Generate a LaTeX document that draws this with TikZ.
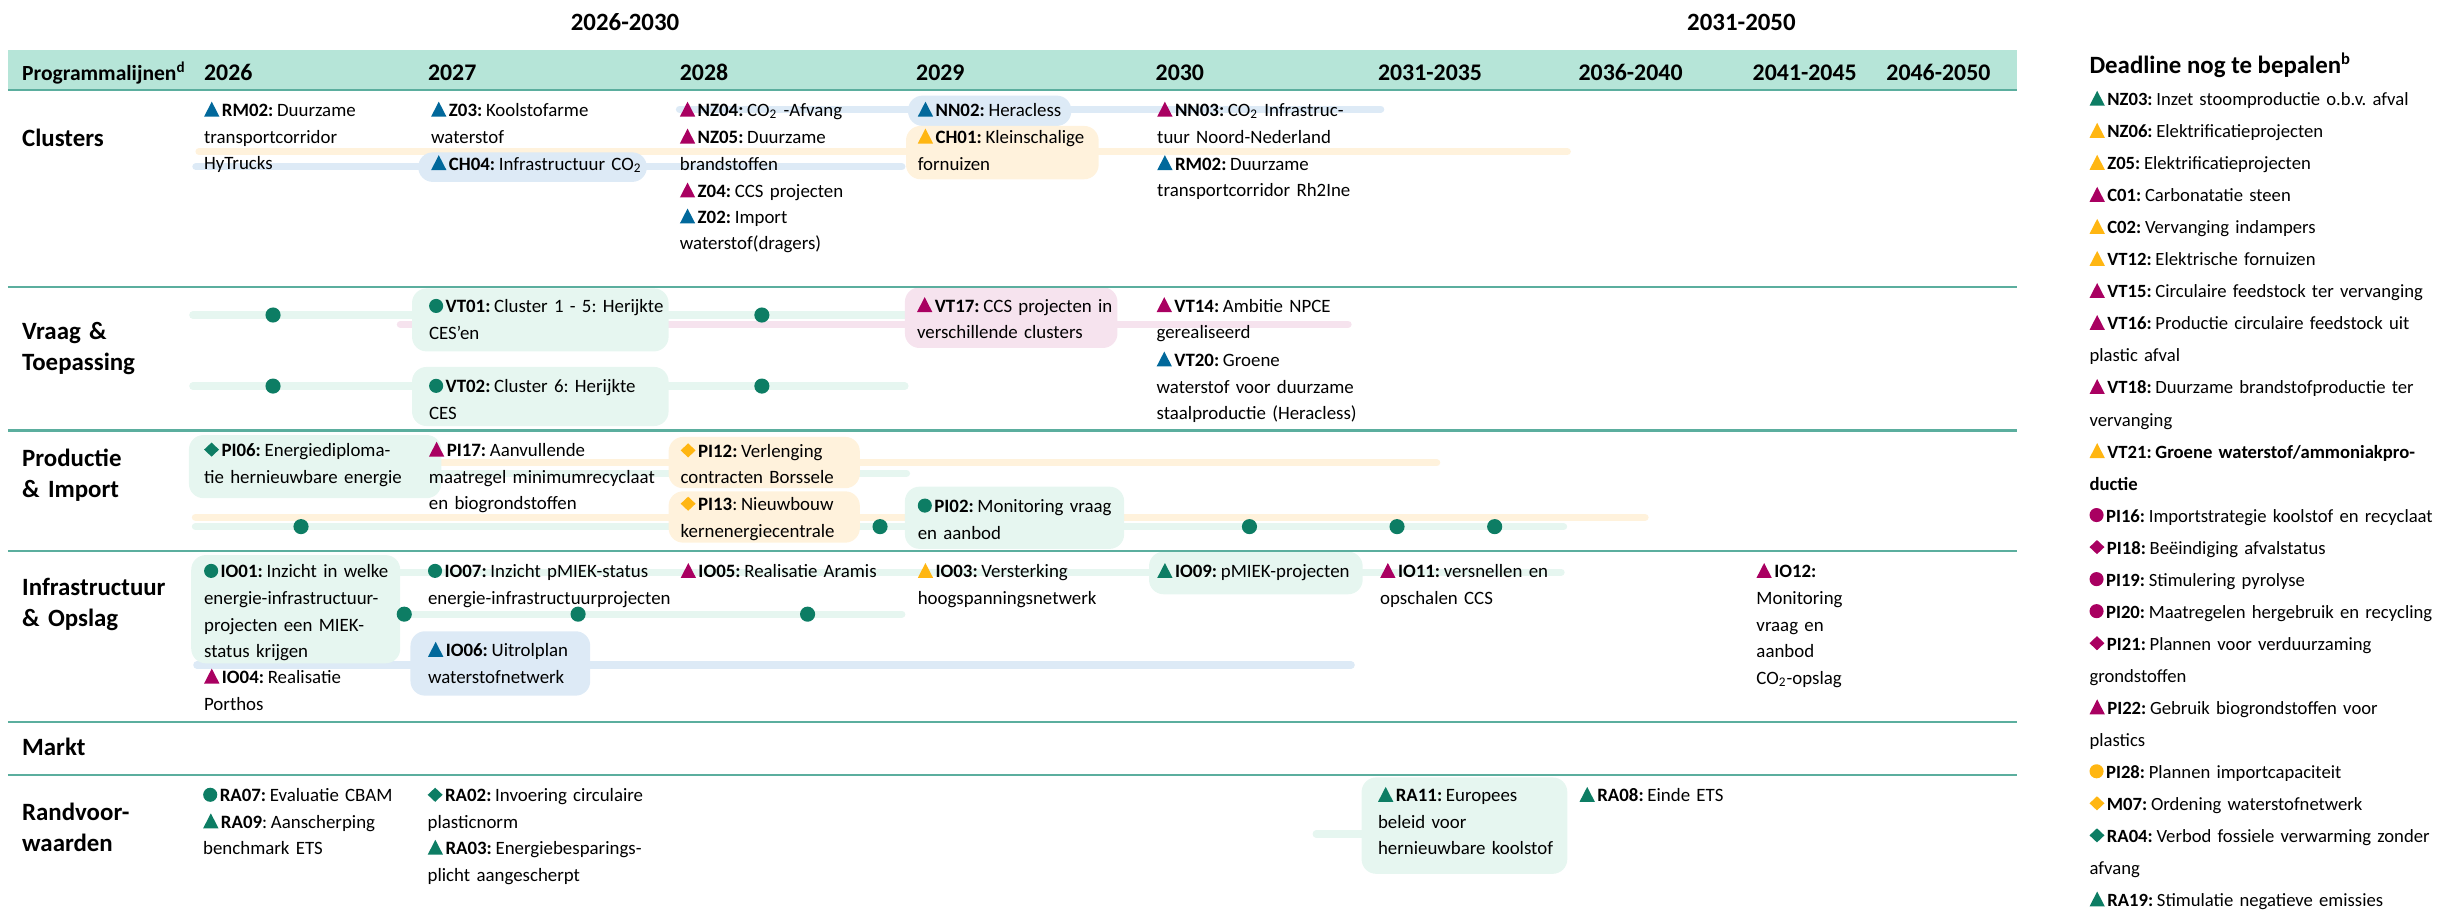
\documentclass[tikz,border=0pt]{standalone}
\usepackage{fontspec}
\setmainfont{Carlito}
\frenchspacing
\definecolor{hdr}{HTML}{B6E5D8}
\definecolor{sepc}{HTML}{5BAE9E}
\definecolor{vio}{HTML}{A90061}
\definecolor{blu}{HTML}{01689B}
\definecolor{yel}{HTML}{FFB612}
\definecolor{grn}{HTML}{0D7D64}
\definecolor{lgrn}{HTML}{E6F6F0}
\definecolor{lblu}{HTML}{DDEAF6}
\definecolor{lyel}{HTML}{FFF2DC}
\definecolor{lvio}{HTML}{F6E3EE}
% markers in front of the codes
\newcommand{\mtri}[1]{\tikz[baseline=0pt]\fill[#1] (0pt,0pt) -- (7.4pt,0pt) -- (3.7pt,7.2pt) -- cycle;\hspace{1.2pt}}
\newcommand{\mdot}[1]{\tikz[baseline=0pt]\fill[#1] (3.4pt,3.4pt) circle[radius=3.4pt];\hspace{1.2pt}}
\newcommand{\mdia}[1]{\tikz[baseline=0pt]\fill[#1] (3.6pt,0pt) -- (7.2pt,3.4pt) -- (3.6pt,6.8pt) -- (0pt,3.4pt) -- cycle;\hspace{1.2pt}}
% bold code with its colon
\newcommand{\cd}[1]{\textbf{#1:}\hspace{1.8pt}}
\tikzset{
  item/.style={anchor=base west, inner sep=0pt, text width=190pt, align=left, font=\fontsize{9.1}{12.8}\selectfont},
  legend/.style={anchor=base west, inner sep=0pt, text width=240pt, align=left, font=\fontsize{9}{15.45}\selectfont},
  rowlab/.style={anchor=base west, inner sep=0pt, text width=90pt, align=left, font=\fontsize{12}{15}\selectfont\bfseries},
  yearlab/.style={anchor=base west, inner sep=0pt, font=\fontsize{11.5}{13}\selectfont\bfseries},
  title/.style={anchor=base, inner sep=0pt, font=\fontsize{12}{14}\selectfont\bfseries},
  track/.style={line width=3.5pt, line cap=round, draw=#1},
  dot/.style={circle, fill=grn, inner sep=0pt, minimum size=7.3pt},
  hl/.style={fill=#1, rounded corners=7pt},
  sepline/.style={draw=sepc, line width=1.1pt},
}
\begin{document}
\begin{tikzpicture}[x=0.75pt, y=-0.75pt]
\useasboundingbox (0,0) rectangle (1568,585);
% header
\fill[hdr] (5,32.2) rectangle (1297,57.9);
\node[title] (tA) at (402,19.3) {2026-2030};
\node[title] (tB) at (1120,19.3) {2031-2050};
\node[yearlab, font=\fontsize{10.4}{13}\selectfont\bfseries] (hProg) at (14,51.5) {Programmalijnen\textsuperscript{d}};
\foreach \x/\t [count=\i] in {131/2026, 275/2027, 437/2028, 589/2029, 743/2030,
  886/2031-2035, 1015/2036-2040, 1127/2041-2045, 1213/2046-2050}
  \node[yearlab] (hY\i) at (\x,51.5) {\t};

% track ends
\coordinate (clYs) at (128,97.5);   \coordinate (clYe) at (1008,97.5);
\coordinate (clBs) at (126,107.2);  \coordinate (clBe) at (580,107.2);
\coordinate (clUs) at (437,70.3);   \coordinate (clUe) at (888,70.3);
\coordinate (vtG1s) at (124,202.6); \coordinate (vtG1e) at (582,202.6);
\coordinate (vtPs) at (257.5,208.6);\coordinate (vtPe) at (867,208.6);
\coordinate (vtG2s) at (124,248.3); \coordinate (vtG2e) at (582,248.3);
\coordinate (piY1s) at (125.7,297.6); \coordinate (piY1e) at (924,297.6);
\coordinate (piG1s) at (125.7,304.4); \coordinate (piG1e) at (583,304.4);
\coordinate (piY2s) at (125.7,332.7); \coordinate (piY2e) at (1058,332.7);
\coordinate (piG2s) at (125.7,338.7); \coordinate (piG2e) at (1005.6,338.7);
\coordinate (ioG1s) at (200,368);   \coordinate (ioG1e) at (1004,368);
\coordinate (ioG2s) at (200,395);   \coordinate (ioG2e) at (580,395);
\coordinate (ioBs) at (126.6,427.7);\coordinate (ioBe) at (869,427.7);
\coordinate (raGs) at (846.5,536.4);\coordinate (raGe) at (900,536.4);

% tracks
\draw[track=lyel] (clYs) -- (clYe);
\draw[track=lblu] (clBs) -- (clBe);
\draw[track=lblu] (clUs) -- (clUe);
\draw[track=lgrn] (vtG1s) -- (vtG1e);
\draw[track=lvio] (vtPs) -- (vtPe);
\draw[track=lgrn] (vtG2s) -- (vtG2e);
\draw[track=lyel] (piY1s) -- (piY1e);
\draw[track=lgrn] (piG1s) -- (piG1e);
\draw[track=lyel] (piY2s) -- (piY2e);
\draw[track=lgrn] (piG2s) -- (piG2e);
\draw[track=lgrn] (ioG1s) -- (ioG1e);
\draw[track=lgrn] (ioG2s) -- (ioG2e);
\draw[track=lblu] (ioBs) -- (ioBe);
\draw[track=lgrn] (raGs) -- (raGe);

% highlight boxes
\fill[hl=lblu] (269,98) rectangle (416,117);
\fill[hl=lblu] (584,61.5) rectangle (689,81);
\fill[hl=lyel] (582.7,81) rectangle (706.6,115.3);
\fill[hl=lgrn] (265,185.5) rectangle (430,226);
\fill[hl=lgrn] (265,236) rectangle (430,274);
\fill[hl=lvio] (582,184.8) rectangle (718.7,223.8);
\fill[hl=lgrn] (121.5,279.8) rectangle (283.8,320.4);
\fill[hl=lyel] (430,281) rectangle (553,314);
\fill[hl=lyel] (430,316) rectangle (553,349);
\fill[hl=lgrn] (582,313) rectangle (723,353);
\fill[hl=lgrn] (123,357) rectangle (257.4,426.6);
\fill[hl=lblu] (264,406) rectangle (379.6,447.4);
\fill[hl=lgrn] (739,354.8) rectangle (876.4,382.2);
\fill[hl=lgrn] (875.7,500) rectangle (1008,562);

% rules between the rows
\draw[sepline] (5,57.9) -- (1297,57.9);
\foreach \y in {184.8, 276.8, 354.4, 464.5, 498.5}
  \draw[sepline] (5,\y) -- (1297,\y);

% dots on the tracks
\foreach \x/\y [count=\i] in {175.6/202.6, 490/202.6, 175.6/248.3, 490/248.3,
  193.6/338.7, 566/338.7, 803.6/338.7, 898.5/338.7, 961.3/338.7,
  260/395, 371.8/395, 519.4/395}
  \node[dot] (d\i) at (\x,\y) {};

% row labels
\node[rowlab] (rClus) at (14,94.3) {Clusters};
\node[rowlab] (rVraag) at (14,218.2) {Vraag \&\\Toepassing};
\node[rowlab] (rProd) at (14,300) {Productie\\\& Import};
\node[rowlab] (rInfra) at (14,382.7) {Infrastructuur\\\& Opslag};
\node[rowlab] (rMarkt) at (14,485.6) {Markt};
\node[rowlab] (rRand) at (14,527.4) {Randvoor-\\waarden};

% Clusters
\node[item] (rm02a) at (131,75) {\mtri{blu}\cd{RM02}Duurzame\\transportcorridor\\HyTrucks};
\node[item] (z03) at (277,75) {\mtri{blu}\cd{Z03}Koolstofarme\\waterstof};
\node[item] (ch04) at (277,109.4) {\mtri{blu}\cd{CH04}Infrastructuur CO\textsubscript{2}};
\node[item] (nz04) at (437,75) {\mtri{vio}\cd{NZ04}CO\textsubscript{2} -Afvang};
\node[item] (nz05) at (437,92.3) {\mtri{vio}\cd{NZ05}Duurzame\\brandstoffen};
\node[item] (z04) at (437,127) {\mtri{vio}\cd{Z04}CCS projecten};
\node[item] (z02) at (437,143.7) {\mtri{blu}\cd{Z02}Import\\waterstof(dragers)};
\node[item] (nn02) at (590,75) {\mtri{blu}\cd{NN02}Heracless};
\node[item] (ch01) at (590,92.3) {\mtri{yel}\cd{CH01}Kleinschalige\\fornuizen};
\node[item] (nn03) at (744,75) {\mtri{vio}\cd{NN03}CO\textsubscript{2} Infrastruc-\\tuur Noord-Nederland};
\node[item] (rm02b) at (744,109.4) {\mtri{blu}\cd{RM02}Duurzame\\transportcorridor Rh2Ine};

% Vraag & Toepassing
\node[item] (vt01) at (275.7,201.3) {\mdot{grn}\cd{VT01}Cluster 1 - 5: Herijkte\\CES’en};
\node[item] (vt02) at (275.7,252.7) {\mdot{grn}\cd{VT02}Cluster 6: Herijkte\\CES};
\node[item] (vt17) at (589.5,200.7) {\mtri{vio}\cd{VT17}CCS projecten in\\verschillende clusters};
\node[item] (vt14) at (743.6,200.7) {\mtri{vio}\cd{VT14}Ambitie NPCE\\gerealiseerd};
\node[item] (vt20) at (743.6,235.7) {\mtri{blu}\cd{VT20}Groene\\waterstof voor duurzame\\staalproductie (Heracless)};

% Productie & Import
\node[item] (pi06) at (131,293.7) {\mdia{grn}\cd{PI06}Energiediploma-\\tie hernieuwbare energie};
\node[item] (pi17) at (275.6,293.7) {\mtri{vio}\cd{PI17}Aanvullende\\maatregel minimumrecyclaat\\en biogrondstoffen};
\node[item] (pi12) at (437.5,294.2) {\mdia{yel}\cd{PI12}Verlenging\\contracten Borssele};
\node[item] (pi13) at (437.5,328.5) {\mdia{yel}\textbf{PI13}:\hspace{1.8pt}Nieuwbouw\\kernenergiecentrale};
\node[item] (pi02) at (590,329.7) {\mdot{grn}\cd{PI02}Monitoring vraag\\en aanbod};

% Infrastructuur & Opslag
\node[item] (io01) at (131,371.7) {\mdot{grn}\cd{IO01}Inzicht in welke\\energie-infrastructuur-\\projecten een MIEK-\\status krijgen};
\node[item] (io04) at (131,439.6) {\mtri{vio}\cd{IO04}Realisatie\\Porthos};
\node[item] (io07) at (275,371.7) {\mdot{grn}\cd{IO07}Inzicht pMIEK-status\\energie-infrastructuurprojecten};
\node[item] (io06) at (275,422.4) {\mtri{blu}\cd{IO06}Uitrolplan\\waterstofnetwerk};
\node[item] (io05) at (437.5,371.7) {\mtri{vio}\cd{IO05}Realisatie Aramis};
\node[item] (io03) at (590,371.7) {\mtri{yel}\cd{IO03}Versterking\\hoogspanningsnetwerk};
\node[item] (io09) at (744,371.7) {\mtri{grn}\cd{IO09}pMIEK-projecten};
\node[item] (io11) at (887.4,371.7) {\mtri{vio}\cd{IO11}versnellen en\\opschalen CCS};
\node[item] (io12) at (1129.4,371.7) {\mtri{vio}\textbf{IO12:}\\Monitoring\\vraag en\\aanbod\\CO\textsubscript{2}-opslag};

% Randvoorwaarden
\node[item] (ra07) at (130.4,515.7) {\mdot{grn}\cd{RA07}Evaluatie CBAM};
\node[item] (ra09) at (130.4,532.7) {\mtri{grn}\textbf{RA09}:\hspace{1.8pt}Aanscherping\\benchmark ETS};
\node[item] (ra02) at (274.8,515.7) {\mdia{grn}\cd{RA02}Invoering circulaire\\plasticnorm};
\node[item] (ra03) at (274.8,549.7) {\mtri{grn}\cd{RA03}Energiebesparings-\\plicht aangescherpt};
\node[item] (ra11) at (886,515.7) {\mtri{grn}\cd{RA11}Europees\\beleid voor\\hernieuwbare koolstof};
\node[item] (ra08) at (1015.6,515.7) {\mtri{grn}\cd{RA08}Einde ETS};

% legend
\node[title, anchor=base west] (legT) at (1343.6,47) {Deadline nog te bepalen\textsuperscript{b}};
\node[legend] (leg) at (1343.6,68) {%
\mtri{grn}\cd{NZ03}Inzet stoomproductie o.b.v. afval\\
\mtri{yel}\cd{NZ06}Elektrificatieprojecten\\
\mtri{yel}\cd{Z05}Elektrificatieprojecten\\
\mtri{vio}\cd{C01}Carbonatatie steen\\
\mtri{yel}\cd{C02}Vervanging indampers\\
\mtri{yel}\cd{VT12}Elektrische fornuizen\\
\mtri{vio}\cd{VT15}Circulaire feedstock ter vervanging\\
\mtri{vio}\cd{VT16}Productie circulaire feedstock uit\\
plastic afval\\
\mtri{vio}\cd{VT18}Duurzame brandstofproductie ter\\
vervanging\\
\mtri{yel}\cd{VT21}\textbf{Groene waterstof/ammoniakpro-}\\
\textbf{ductie}\\
\mdot{vio}\cd{PI16}Importstrategie koolstof en recyclaat\\
\mdia{vio}\cd{PI18}Beëindiging afvalstatus\\
\mdot{vio}\cd{PI19}Stimulering pyrolyse\\
\mdot{vio}\cd{PI20}Maatregelen hergebruik en recycling\\
\mdia{vio}\cd{PI21}Plannen voor verduurzaming\\
grondstoffen\\
\mtri{vio}\cd{PI22}Gebruik biogrondstoffen voor\\
plastics\\
\mdot{yel}\cd{PI28}Plannen importcapaciteit\\
\mdia{yel}\cd{M07}Ordening waterstofnetwerk\\
\mdia{grn}\cd{RA04}Verbod fossiele verwarming zonder\\
afvang\\
\mtri{grn}\cd{RA19}Stimulatie negatieve emissies};
\end{tikzpicture}
\end{document}
